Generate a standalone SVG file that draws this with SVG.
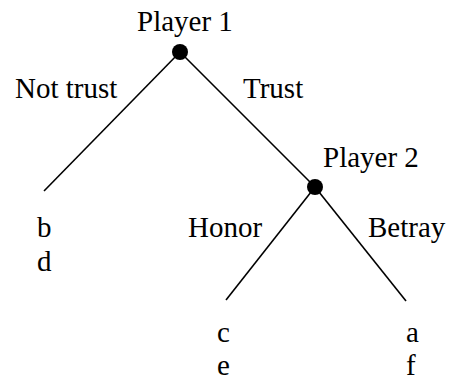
<svg xmlns="http://www.w3.org/2000/svg" width="453" height="385" viewBox="0 0 453 385">
<style>
text{font-family:'Liberation Serif','Times New Roman',Times,serif;font-size:29px;fill:#000}
.e{stroke:#000;stroke-width:1.6;fill:none}
.n{fill:#000}
</style>
<rect width="453" height="385" fill="#fff"/>
<g id="connectors">
<line class="e" x1="180" y1="52" x2="44" y2="191"/>
<line class="e" x1="180" y1="52" x2="315" y2="187"/>
<line class="e" x1="315" y1="187" x2="226" y2="300"/>
<line class="e" x1="315" y1="187" x2="406" y2="301"/>
<text x="15" y="98">Not trust</text>
<text x="243" y="98">Trust</text>
<text x="188" y="237">Honor</text>
<text x="368" y="237">Betray</text>
</g>
<g id="player1">
<circle class="n" cx="180" cy="52" r="8"/>
<text x="137" y="31">Player 1</text>
</g>
<g id="player2">
<circle class="n" cx="315" cy="187" r="8"/>
<text x="323" y="167">Player 2</text>
</g>
<g id="leaf-left">
<text x="37" y="237">b</text>
<text x="37" y="271">d</text>
</g>
<g id="leaf-honor">
<text x="217" y="342">c</text>
<text x="217" y="375">e</text>
</g>
<g id="leaf-betray">
<text x="406" y="342">a</text>
<text x="406" y="375">f</text>
</g>
</svg>
